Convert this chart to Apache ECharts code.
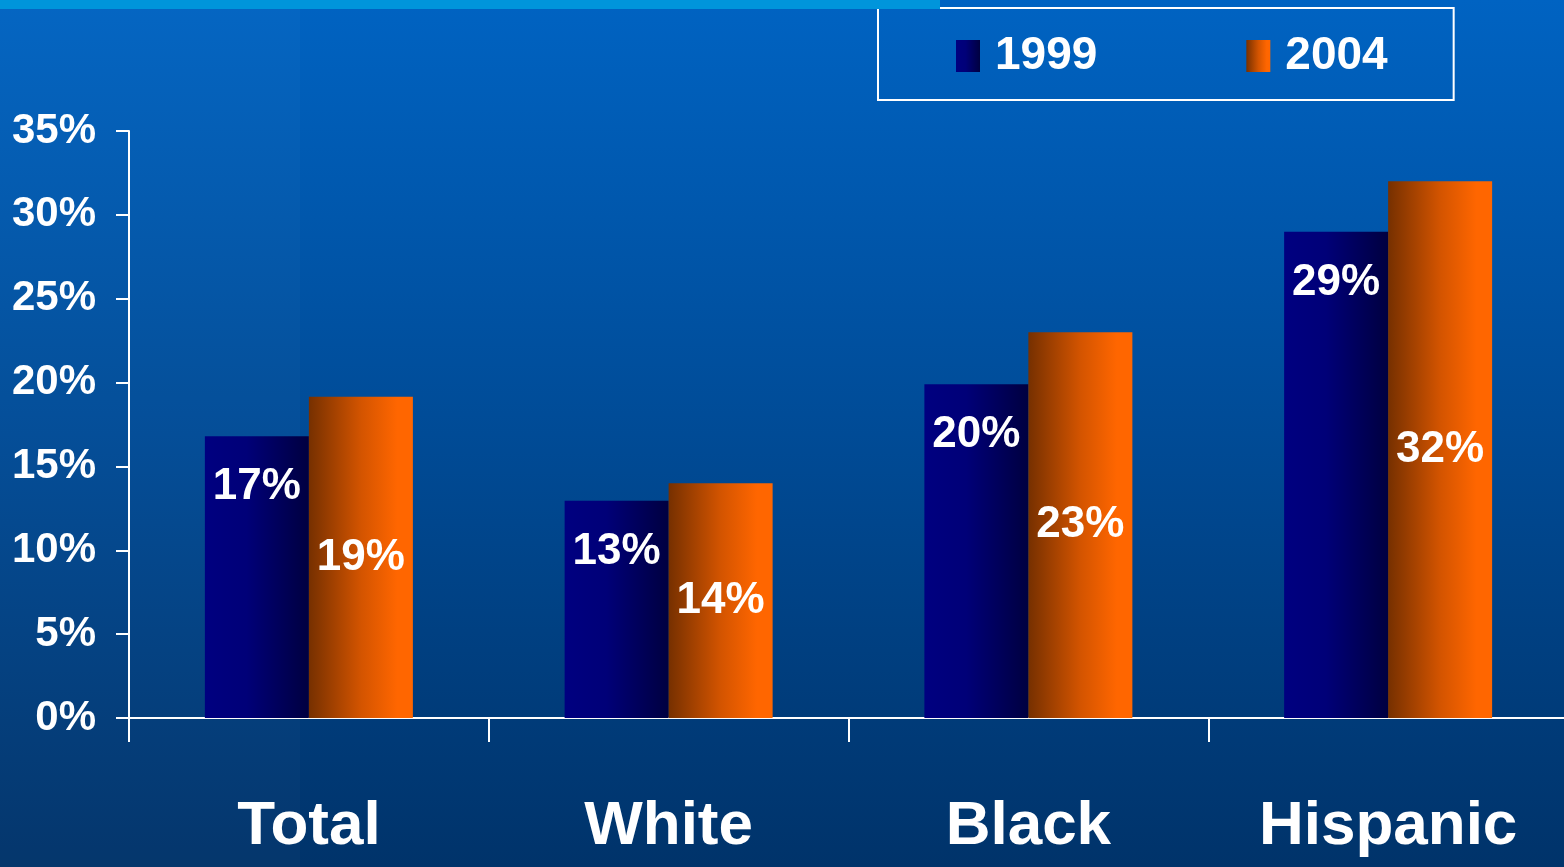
<!DOCTYPE html>
<html><head><meta charset="utf-8">
<script src="https://cdn.jsdelivr.net/npm/echarts@6/dist/echarts.min.js"></script>
<style>html,body{margin:0;padding:0;background:#004a90}#c{width:1564px;height:867px}</style>
</head><body><div id="c"></div>
<script>
const categories = ['Total', 'White', 'Black', 'Hispanic'];
const seriesNames = ['1999', '2004'];
const values1999 = [16.8, 12.95, 19.9, 29.0];
const values2004 = [19.15, 14.0, 23.0, 32.0];
const yMin = 0, yMax = 35, yStep = 5;

const FONT = '"Liberation Sans Narrow", "Arial Narrow", "Liberation Sans", Arial, sans-serif';

const chart = echarts.init(document.getElementById('c'), null, {renderer: 'canvas'});
const navyGrad = new echarts.graphic.LinearGradient(0, 0, 1, 0, [
  {offset: 0, color: '#000080'}, {offset: 0.4, color: '#000078'}, {offset: 1, color: '#000040'}
]);
const orangeGrad = new echarts.graphic.LinearGradient(0, 0, 1, 0, [
  {offset: 0, color: '#763000'}, {offset: 0.5, color: '#d35400'}, {offset: 0.85, color: '#ff6600'}, {offset: 1, color: '#ff6600'}
]);
chart.setOption({
  backgroundColor: new echarts.graphic.LinearGradient(0, 0, 0, 1, [
    {offset: 0, color: '#0063C2'}, {offset: 1, color: '#00336A'}
  ]),
  textStyle: {fontFamily: FONT},
  graphic: [
    {type: 'rect', left: 0, top: 0, z: -1, shape: {width: 300, height: 867}, style: {fill: 'rgba(255,255,255,0.02)'}},
    {type: 'rect', left: 0, top: 0, z: 10, shape: {width: 940, height: 9}, style: {fill: '#0095DB'}}
  ],
  legend: {
    data: seriesNames,
    left: 878, top: 8,
    icon: 'rect',
    itemWidth: 24, itemHeight: 32, itemGap: 149,
    borderColor: '#ffffff', borderWidth: 2,
    padding: [25, 66, 21, 78],
    textStyle: {color: '#fff', fontSize: 46, fontWeight: 'bold', fontFamily: FONT, padding: [0, 0, 0, 10]}
  },
  grid: {left: 129, top: 131, bottom: 149, right: -4, containLabel: false, outerBoundsMode: 'none'},
  xAxis: {
    type: 'category', data: categories,
    axisLine: {lineStyle: {color: '#fff', width: 2}},
    axisTick: {show: true, interval: 0, length: 24, lineStyle: {color: '#fff', width: 2}},
    axisLabel: {interval: 0, color: '#fff', fontSize: 62, fontWeight: 'bold', fontFamily: FONT, margin: 78}
  },
  yAxis: {
    type: 'value', min: yMin, max: yMax, interval: yStep,
    axisLine: {show: true, lineStyle: {color: '#fff', width: 2}},
    axisTick: {show: true, length: 13, lineStyle: {color: '#fff', width: 2}},
    splitLine: {show: false},
    axisLabel: {color: '#fff', fontSize: 42, fontWeight: 'bold', fontFamily: FONT, margin: 33, formatter: '{value}%'}
  },
  series: [
    {
      name: seriesNames[0], type: 'bar', data: values1999, barWidth: 104, barGap: '0%',
      itemStyle: {color: navyGrad},
      label: {show: true, position: 'insideTop', distance: 29, color: '#fff', fontSize: 44, fontWeight: 'bold', fontFamily: FONT,
        formatter: p => Math.round(p.value) + '%'}
    },
    {
      name: seriesNames[1], type: 'bar', data: values2004, barWidth: 104, barGap: '0%',
      itemStyle: {color: orangeGrad},
      label: {show: true, position: 'inside', color: '#fff', fontSize: 44, fontWeight: 'bold', fontFamily: FONT,
        formatter: p => Math.round(p.value) + '%'}
    }
  ]
});
</script></body></html>
